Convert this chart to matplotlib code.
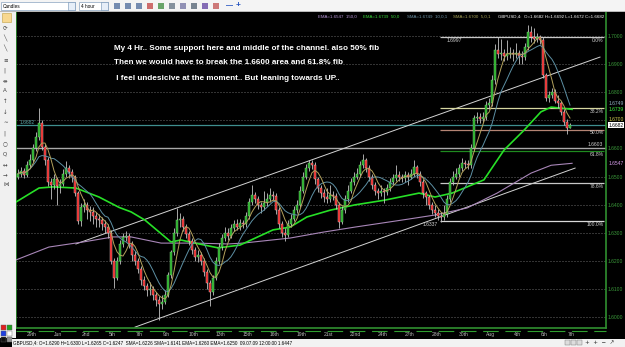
import matplotlib
matplotlib.use("Agg")
import matplotlib.pyplot as plt
from matplotlib.patches import Rectangle
import numpy as np
import pandas as pd

W, H = 625, 347

# GBPUSD 4 hour candles, prices in pips above 1.0000 (6515 -> 1.6515)
first_open = 6500
closes = [
    6510, 6520, 6505, 6540, 6560, 6600, 6640, 6690, 6605, 6560,
    6480, 6470, 6490, 6465, 6475, 6510, 6530, 6515, 6500, 6440,
    6340, 6390, 6400, 6380, 6375, 6360, 6350, 6345, 6330, 6320,
    6300, 6200, 6140, 6200, 6260, 6285, 6290, 6260, 6220, 6200,
    6170, 6130, 6110, 6096, 6100, 6080, 6060, 6045, 6055, 6080,
    6150, 6230, 6300, 6345, 6350, 6320, 6295, 6270, 6240, 6215,
    6220, 6200, 6160, 6120, 6090, 6140, 6200, 6250, 6280, 6300,
    6290, 6315, 6330, 6320, 6335, 6330, 6360, 6410, 6434, 6420,
    6400, 6390, 6405, 6420, 6434, 6430, 6380, 6330, 6300, 6292,
    6330, 6350, 6380, 6400, 6450, 6500, 6530, 6548, 6540, 6490,
    6460, 6440, 6427, 6420, 6435, 6430, 6400, 6338, 6380, 6420,
    6450, 6480, 6500, 6510, 6540, 6559, 6530, 6500, 6470, 6450,
    6441, 6450, 6445, 6460, 6480, 6495, 6505, 6500, 6495, 6505,
    6500, 6510, 6534, 6510, 6480, 6440, 6427, 6400, 6380, 6370,
    6360, 6356, 6365, 6420, 6480, 6500, 6510, 6530, 6548, 6545,
    6540, 6600, 6708, 6712, 6705, 6712, 6754, 6760, 6843, 6950,
    6935, 6940, 6930, 6935, 6940, 6935, 6940, 6930, 6925, 6960,
    7014, 6995, 6990, 6995, 6985, 6860, 6780, 6790, 6800, 6770,
    6760, 6730, 6695, 6673, 6682,
]
highs = [
    6525, 6535, 6530, 6555, 6580, 6615, 6660, 6744, 6700, 6615,
    6570, 6495, 6510, 6500, 6490, 6525, 6555, 6540, 6525, 6505,
    6450, 6405, 6420, 6410, 6395, 6390, 6375, 6365, 6355, 6345,
    6330, 6310, 6210, 6215, 6275, 6300, 6305, 6300, 6270, 6235,
    6210, 6180, 6145, 6120, 6125, 6110, 6090, 6075, 6080, 6095,
    6160, 6240, 6315, 6388, 6370, 6360, 6330, 6305, 6280, 6250,
    6240, 6230, 6210, 6170, 6130, 6150, 6215, 6265, 6295, 6320,
    6315, 6330, 6345, 6350, 6350, 6345, 6375, 6425, 6470, 6445,
    6430, 6410, 6450, 6440, 6460, 6450, 6440, 6390, 6340, 6315,
    6345, 6365, 6395, 6415, 6465, 6515, 6545, 6560, 6558, 6550,
    6500, 6470, 6455, 6460, 6470, 6450, 6440, 6410, 6395, 6435,
    6470, 6495, 6515, 6530, 6555, 6580, 6565, 6540, 6510, 6480,
    6460, 6470, 6460, 6475, 6495, 6510, 6540, 6520, 6510, 6520,
    6515, 6525, 6560, 6540, 6520, 6490, 6450, 6435, 6410, 6400,
    6385, 6375, 6400, 6435, 6495, 6520, 6530, 6545, 6565, 6560,
    6560, 6615, 6720, 6730, 6725, 6730, 6770, 6780, 6860, 6970,
    6995, 6990, 6955, 6985, 6960, 6955, 6975, 6950, 6945, 6975,
    7040, 7035, 7030, 7010, 7005, 6995, 6870, 6805, 6815, 6810,
    6790, 6770, 6740, 6705, 6692,
]
lows = [
    6490, 6500, 6495, 6500, 6530, 6550, 6590, 6630, 6595, 6540,
    6465, 6420, 6455, 6400, 6440, 6465, 6500, 6495, 6480, 6430,
    6330, 6325, 6375, 6350, 6340, 6330, 6320, 6320, 6310, 6300,
    6280, 6190, 6103, 6130, 6190, 6250, 6270, 6245, 6200, 6185,
    6155, 6115, 6095, 6075, 6080, 6060, 6040, 5990, 6030, 6045,
    6070, 6140, 6220, 6290, 6320, 6305, 6280, 6255, 6225, 6200,
    6195, 6185, 6145, 6100, 6040, 6080, 6130, 6190, 6240, 6270,
    6275, 6280, 6305, 6310, 6310, 6315, 6320, 6350, 6400, 6405,
    6385, 6370, 6380, 6395, 6410, 6415, 6365, 6315, 6285, 6270,
    6285, 6320, 6340, 6370, 6390, 6440, 6490, 6520, 6525, 6475,
    6445, 6425, 6410, 6405, 6410, 6415, 6385, 6317, 6330, 6370,
    6410, 6440, 6470, 6490, 6500, 6530, 6515, 6485, 6455, 6435,
    6420, 6430, 6405, 6435, 6450, 6470, 6485, 6485, 6480, 6480,
    6470, 6490, 6500, 6495, 6465, 6425, 6400, 6385, 6365, 6355,
    6345, 6337, 6345, 6355, 6410, 6470, 6490, 6500, 6520, 6530,
    6525, 6530, 6590, 6690, 6690, 6695, 6700, 6740, 6750, 6830,
    6920, 6915, 6910, 6915, 6920, 6910, 6920, 6900, 6900, 6915,
    6950, 6980, 6975, 6980, 6970, 6850, 6770, 6765, 6780, 6760,
    6745, 6720, 6685, 6650, 6672,
]

# moving averages (bar index, price)
ema50_idx = [-0.7, 7, 11.7, 19.3, 27, 33.7, 37.7, 42.3, 51, 54.3, 59, 66.7, 74, 85,
             90.7, 96.3, 104, 112.3, 122.3, 133.7, 139, 144.7, 149.7, 155.3, 162,
             168.7, 174.3, 177.7, 184.7]
ema50_val = [1.6409, 1.6459, 1.6463, 1.6459, 1.6427, 1.6390, 1.6374, 1.6345, 1.6267,
             1.6274, 1.6263, 1.6246, 1.6256, 1.6310, 1.6320, 1.6356, 1.6380, 1.6399,
             1.6416, 1.6441, 1.6427, 1.6441, 1.6463, 1.6488, 1.6594, 1.6665, 1.6730,
             1.6747, 1.6739]
ema150_idx = [-0.7, 10.3, 21.7, 31.7, 37.7, 47.7, 59, 70, 75, 90.7, 101.7, 112.3,
              128, 139, 149.7, 159.7, 171, 177.7, 184.7]
ema150_val = [1.6203, 1.6249, 1.6267, 1.6285, 1.6285, 1.6263, 1.6263, 1.6260, 1.6263,
              1.6281, 1.6302, 1.6320, 1.6345, 1.6363, 1.6388, 1.6441, 1.6512, 1.6540,
              1.6547]

# trend channel (bar index, price)
channel_upper = [(19.3, 1.6260), (194.0, 1.6925)]
channel_lower = [(39.0, 1.5964), (185.7, 1.6530)]

# fibonacci retracement 1.6997 -> 1.6337
fib_levels = [1.6997, 1.6745, 1.6667, 1.6589, 1.6478, 1.6341]
fib_names = ["0.0%", "38.2%", "50.0%", "61.8%", "78.6%", "100.0%"]
fib_colors = ["#c8c8c8", "#d6d6a0", "#b48474", "#1f8a1f", "#c8c8c8", "#d8d8d8"]

support_level = 1.6603
start_level = 1.6682

price_ticks = [1.60, 1.61, 1.62, 1.63, 1.64, 1.65, 1.66, 1.67, 1.68, 1.69, 1.70]
date_pos = [4.5, 13.5, 22.5, 31.5, 40.5, 49.5, 58.5, 67.5, 76.5, 85.5, 94.5, 103.5,
            112.5, 121.5, 130.5, 139.5, 148.5, 157.5, 166.5, 175.5, 184.5]
date_labels = ["29th", "Jun", "2nd", "5th", "7th", "9th", "10th", "13th", "15th",
               "16th", "19th", "21st", "22nd", "24th", "27th", "28th", "30th", "Aug",
               "4th", "6th", "7th"]

notes = ["My 4 Hr.. Some support here and middle of the channel. also 50% fib",
         "Then we would have to break the 1.6600 area and 61.8% fib",
         " I feel undesicive at the moment.. But leaning towards UP.."]

plt.rcParams["font.family"] = ["Liberation Sans", "DejaVu Sans"]

c = np.array(closes) / 10000 + 1
o = np.array([first_open] + closes[:-1]) / 10000 + 1
hi = np.array(highs) / 10000 + 1
lo = np.array(lows) / 10000 + 1
x = np.arange(len(c))

sma5 = pd.Series(c).rolling(5, min_periods=1).mean()
sma10 = pd.Series(c).rolling(10, min_periods=1).mean()

fig = plt.figure(figsize=(6.25, 3.47), dpi=100, facecolor="black")
ax = fig.add_axes([16 / W, 1 - 328 / H, 590 / W, 316 / H])
ax.set_facecolor("black")
ax.set_xlim(-0.67, 196)
ax.set_ylim(1.59609, 1.70854)

for p in price_ticks:
    ax.axhline(p, color="#7a7a7a", lw=0.6, ls=(0, (1.2, 2.4)), zorder=1)

ax.axhline(start_level, color="#3f8f8f", lw=0.9, zorder=2)
ax.text(0.5, start_level + 0.0003, "1.6682", color="#5aa6a6", fontsize=3.6,
        va="bottom", ha="left")
ax.axhline(support_level, color="#a8a8a8", lw=1.0, zorder=2)
ax.text(195, support_level + 0.0003, "1.6603", color="#cccccc", fontsize=3.6,
        va="bottom", ha="right")

# channel
for line in (channel_upper, channel_lower):
    ax.plot([line[0][0], line[1][0]], [line[0][1], line[1][1]], color="#d4d4d4",
            lw=0.7, zorder=2)

# fib
ax.hlines(fib_levels, 140.7, 195.3, colors=fib_colors, lw=0.9, zorder=2)
for lvl, name in zip(fib_levels, fib_names):
    ax.text(195.2, lvl - 0.0003, name, color="#d0d0d0", fontsize=3.6,
            ha="right", va="top")
ax.text(145.5, fib_levels[0] - 0.0003, "1.6997", color="#d0d0d0", fontsize=3.6,
        ha="center", va="top")
ax.text(137.5, fib_levels[-1] - 0.0002, "1.6337", color="#d0d0d0", fontsize=3.6,
        ha="center", va="top")

# indicators
ax.plot(ema150_idx, ema150_val, color="#a886b8", lw=0.8, zorder=3)
ax.plot(ema50_idx, ema50_val, color="#27e027", lw=1.2, zorder=3)

# candles
up = c >= o
ax.vlines(x, lo, hi, color="#c4c4c4", lw=0.6, zorder=4)
body_bottom = np.minimum(o, c)
body_h = np.maximum(np.abs(c - o), 0.0002)
ax.bar(x[up], body_h[up], bottom=body_bottom[up], width=0.88, color="#1fa81f",
       edgecolor="#90dc90", lw=0.3, zorder=5)
ax.bar(x[~up], body_h[~up], bottom=body_bottom[~up], width=0.88, color="#e41616",
       edgecolor="#f4d0d0", lw=0.3, zorder=5)

ax.plot(x, sma10, color="#5d90a4", lw=0.7, zorder=6)
ax.plot(x, sma5, color="#b4a25c", lw=0.7, zorder=6)

# axes styling
for side in ("left", "right", "bottom"):
    ax.spines[side].set_color("#2f8f2f")
    ax.spines[side].set_linewidth(1.2)
ax.spines["top"].set_visible(False)
ax.yaxis.tick_right()
ax.set_yticks(price_ticks)
ax.set_yticklabels([f"{p:.4f}" for p in price_ticks])
ax.tick_params(axis="y", length=0, pad=1.5, labelsize=3.6, labelcolor="#3a9a3a")
ax.set_xticks(date_pos)
ax.set_xticklabels(date_labels)
ax.tick_params(axis="x", length=0, pad=3.2, labelsize=3.6, labelcolor="#b8b8b8")

ytr = ax.get_yaxis_transform()
side_labels = [(1.6760, "1.6749", "#8fb0c0", None),
               (1.6739, "1.6739", "#3cf03c", None),
               (1.6702, "1.6700", "#d4d050", "black"),
               (1.6682, "1.6682", "black", "white"),
               (1.6547, "1.6547", "#d49ae8", None)]
for yv, s, col, bg in side_labels:
    kw = {}
    if bg:
        kw["bbox"] = dict(boxstyle="square,pad=0.1", fc=bg, ec="none")
    ax.text(1.004, yv, s, transform=ytr, color=col, fontsize=3.6, va="center",
            ha="left", clip_on=False, **kw)

# notes on the chart
for i, s in enumerate(notes):
    fig.text(114 / W, 1 - (48 + 15 * i) / H, s, color="white", fontsize=5.9,
             fontweight="bold", va="center", ha="left")

# header line with indicator values
header = [(318, "EMA=1.6547  150,0", "#b896d8"),
          (363, "EMA=1.6739  50,0", "#3ad83a"),
          (407, "SMA=1.6749  10,0,1", "#6f95a8"),
          (453, "SMA=1.6700  5,0,1", "#a8a458"),
          (498, "GBPUSD,4:  O=1.6682 H=1.6692 L=1.6672 C=1.6682", "white")]
for hx, s, col in header:
    fig.text(hx / W, 1 - 17 / H, s, color=col, fontsize=3.2, va="center")

# green period separator under the chart
fig.add_artist(plt.Line2D([16 / W, 606 / W], [1 - 331 / H, 1 - 331 / H],
                          color="#2f9f2f", lw=0.8, ls=(0, (14, 6))))


def px_rect(px, py, pw, ph, **kw):
    fig.add_artist(Rectangle((px / W, 1 - (py + ph) / H), pw / W, ph / H,
                             transform=fig.transFigure, **kw))


def px_text(px, py, s, **kw):
    fig.text(px / W, 1 - py / H, s, va="center", **kw)


# terminal chrome: toolbar, side bar, status bar
px_rect(0, 0, W, 11.5, fc="#f4f4f4", ec="none")
px_rect(0, 11, W, 0.8, fc="#b8b8b8", ec="none")
px_rect(1, 2, 74, 8, fc="white", ec="#8aa4c0", lw=0.5)
px_text(3, 6, "Candles", fontsize=3.4, color="black")
px_rect(68, 2.5, 6.5, 7, fc="#e6eef8", ec="#6c8cb0", lw=0.4)
px_rect(79, 2, 29, 8, fc="white", ec="#8aa4c0", lw=0.5)
px_text(81, 6, "4 hour", fontsize=3.4, color="black")
px_rect(101, 2.5, 6.5, 7, fc="#e6eef8", ec="#6c8cb0", lw=0.4)
icon_x = [114, 125, 136, 147, 158, 169, 180, 191, 202, 213]
icon_c = ["#4a6a9a", "#4a6a9a", "#4a6a9a", "#c04040", "#3a8a3a", "#607080",
          "#7070a0", "#506070", "#6040a0", "#c05050"]
for ix, ic in zip(icon_x, icon_c):
    px_rect(ix, 3, 6, 6, fc=ic, ec="none", alpha=0.75)
px_text(226, 6, "—", fontsize=5, color="#2050c0", fontweight="bold")
px_text(236, 6, "+", fontsize=6, color="#2050c0", fontweight="bold")

px_rect(0, 12, 15.5, 326, fc="#f0f0f0", ec="none")
px_rect(2, 13, 9, 9, fc="#f8d890", ec="#c0a040", lw=0.4)
side_icons = ["⟳", "╲", "╲", "≡", "|", "⇼", "A", "↑", "↓", "∼", "|", "○", "Q",
              "↔", "→", "⋈"]
for k, s in enumerate(side_icons):
    px_text(3, 28 + k * 10.5, s, fontsize=4, color="#404040",
            family=["DejaVu Sans"])
sq = [(0, 325, "#e02020"), (6, 325, "#20a020"), (0, 331, "#2040e0"),
      (6, 331, "#ffffff"), (0, 337, "#101010"), (6, 337, "#909090")]
for sx, sy, col in sq:
    px_rect(sx + 0.5, sy, 5, 5, fc=col, ec="#606060", lw=0.3)

px_rect(12, 338.5, W - 12, 8.5, fc="#f2f2f2", ec="none")
px_text(13, 342.5, "GBPUSD,4: O=1.6290 H=1.6300 L=1.6265 C=1.6247  SMA=1.6226 "
        "SMA=1.6141 EMA=1.6260 EMA=1.6250  09.07.09 12:00:00 1.6447",
        fontsize=3.3, color="black")
for bx in (565, 571, 577):
    px_rect(bx, 340, 5, 5, fc="#dddddd", ec="#707070", lw=0.3)
px_text(585, 342.5, "+  +  −  ↗", fontsize=4, color="#303030",
        family=["DejaVu Sans"])

fig.savefig("out.png", dpi=100, facecolor="black")
